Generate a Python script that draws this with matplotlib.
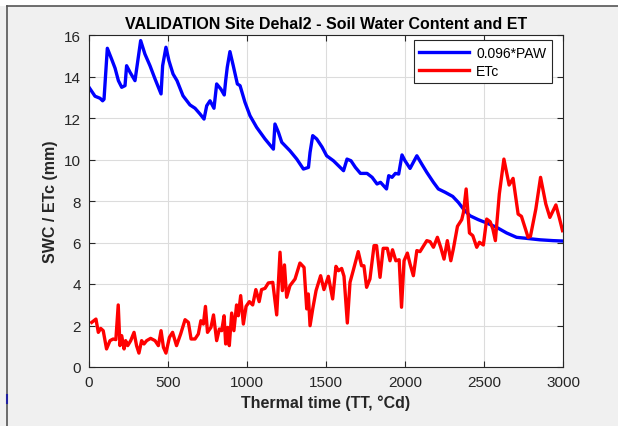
## SWC and ETc validation plot (Dehal2 site)
import numpy as np
import matplotlib.pyplot as plt
from matplotlib.lines import Line2D
from matplotlib.patches import Rectangle

plt.rcParams['font.family'] = ['Liberation Sans', 'DejaVu Sans']

# Soil water content (0.096*PAW), mm
swc_tt = [0, 38, 70, 86, 95, 116, 143, 165, 186, 207, 228, 238, 260, 291, 327, 354,
          386, 418, 456, 466, 487, 506, 532, 557, 595, 639, 671, 703, 728, 745, 766,
          791, 808, 834, 856, 865, 875, 892, 913, 939, 956, 987, 1019, 1061, 1114,
          1167, 1177, 1199, 1220, 1272, 1315, 1357, 1389, 1399, 1416, 1441, 1475,
          1504, 1547, 1579, 1611, 1633, 1658, 1686, 1718, 1760, 1792, 1823, 1845,
          1883, 1897, 1918, 1939, 1960, 1981, 2000, 2032, 2075, 2106, 2138, 2180,
          2211, 2254, 2302, 2338, 2370, 2411, 2464, 2517, 2580, 2643, 2706, 2769,
          2854, 2937, 3000]
swc = [13.48, 13.05, 12.95, 12.83, 12.9, 15.36, 14.84, 14.4, 13.8, 13.48, 13.56,
       14.52, 14.2, 13.8, 15.73, 15.08, 14.52, 13.88, 13.16, 14.52, 15.41, 14.76,
       14.12, 13.8, 13.07, 12.63, 12.47, 12.19, 11.95, 12.59, 12.83, 12.47, 13.64,
       13.4, 13.11, 13.8, 14.44, 15.2, 14.52, 13.64, 13.56, 12.76, 12.11, 11.55,
       10.99, 10.5, 11.71, 11.31, 10.83, 10.42, 10.02, 9.54, 9.62, 10.34, 11.15,
       10.99, 10.6, 10.18, 9.94, 9.7, 9.46, 10.02, 9.94, 9.62, 9.33, 9.33, 9.14,
       8.82, 8.9, 8.58, 9.22, 9.14, 9.33, 9.3, 10.22, 9.94, 9.57, 10.18, 9.78, 9.38,
       8.9, 8.58, 8.42, 8.22, 7.93, 7.61, 7.29, 7.1, 6.94, 6.73, 6.46, 6.25, 6.2,
       6.13, 6.09, 6.07]

# Crop evapotranspiration, mm
et_tt = [17, 44, 59, 74, 90, 111, 133, 153, 170, 185, 196, 207, 222, 232, 245, 264,
         285, 301, 316, 333, 348, 365, 390, 418, 439, 456, 471, 487, 509, 529, 554,
         580, 608, 629, 646, 671, 692, 708, 724, 737, 750, 772, 788, 808, 825, 840,
         855, 865, 878, 888, 903, 917, 934, 945, 960, 977, 994, 1015, 1036, 1056,
         1077, 1092, 1114, 1135, 1163, 1188, 1209, 1224, 1237, 1251, 1272, 1304,
         1335, 1361, 1378, 1388, 1399, 1416, 1437, 1466, 1487, 1515, 1542, 1563,
         1579, 1599, 1614, 1635, 1652, 1672, 1704, 1725, 1740, 1757, 1778, 1804,
         1820, 1842, 1862, 1888, 1905, 1921, 1942, 1963, 1978, 1994, 2015, 2032,
         2053, 2075, 2095, 2116, 2138, 2159, 2180, 2205, 2226, 2247, 2268, 2290,
         2306, 2332, 2359, 2370, 2387, 2408, 2429, 2454, 2471, 2496, 2517, 2539,
         2556, 2572, 2597, 2626, 2659, 2684, 2716, 2737, 2779, 2794, 2828, 2858,
         2891, 2917, 2955, 2976, 2997]
etc = [2.15, 2.31, 1.67, 1.86, 1.75, 0.87, 1.27, 1.35, 1.32, 2.99, 1.03, 1.51, 0.87,
       1.27, 1.03, 1.27, 1.67, 1.03, 0.67, 1.27, 1.11, 1.27, 1.38, 1.27, 1.03, 1.75,
       0.95, 0.67, 1.43, 1.67, 1.03, 1.59, 2.28, 2.15, 1.35, 1.35, 1.59, 2.23, 2.07,
       2.92, 1.67, 1.91, 2.51, 1.27, 1.83, 1.75, 2.47, 1.11, 1.91, 1.03, 2.6, 1.75,
       2.99, 2.47, 3.44, 2.07, 2.92, 3.15, 2.99, 3.73, 3.15, 3.73, 3.79, 4.05, 4.08,
       2.51, 5.53, 3.68, 4.92, 3.36, 3.92, 4.24, 5.01, 4.8, 2.8, 3.52, 1.99, 2.8,
       3.68, 4.4, 3.73, 4.37, 3.28, 4.85, 4.64, 4.75, 4.37, 2.12, 4.08, 4.64, 5.56,
       4.88, 4.88, 3.84, 4.24, 5.85, 5.85, 4.32, 5.72, 5.72, 5.12, 5.65, 5.12, 5.17,
       2.88, 5.12, 5.49, 4.96, 4.4, 5.61, 5.56, 5.82, 6.09, 6.04, 5.77, 6.25, 5.77,
       5.2, 6.09, 5.12, 5.69, 6.78, 7.1, 7.45, 8.58, 6.46, 6.33, 5.77, 6.01, 5.88,
       7.13, 7.0, 6.65, 6.09, 8.34, 10.02, 8.77, 9.09, 7.37, 7.26, 6.25, 6.3, 7.61,
       9.14, 7.86, 7.21, 7.81, 7.21, 6.57]

fig = plt.figure(figsize=(6.18, 4.27), dpi=100, facecolor='#f0f0f0')
# window frame of the screenshot
fig.patches.append(Rectangle((0, 1 - 7/427), 1, 7/427, transform=fig.transFigure,
                             facecolor='white', edgecolor='none', zorder=0))
fig.lines.append(Line2D([7/618, 1], [1 - 7/427, 1 - 7/427], transform=fig.transFigure,
                        color='#555555', lw=1.2))
fig.lines.append(Line2D([7/618, 7/618], [0, 1 - 7/427], transform=fig.transFigure,
                        color='#555555', lw=1.2))
fig.lines.append(Line2D([7/618, 7/618], [23/427, 31/427], transform=fig.transFigure,
                        color='#2020a0', lw=1.5))

ax = fig.add_axes([89/618, 59/427, 474/618, 332/427])
ax.plot(swc_tt, swc, color='#0000ff', lw=2.4, solid_joinstyle='round', label='0.096*PAW')
ax.plot(et_tt, etc, color='#ff0000', lw=2.4, solid_joinstyle='round', label='ETc')

ax.set_xlim(0, 3000)
ax.set_ylim(0, 16)
ax.set_xticks(np.arange(0, 3001, 500))
ax.set_yticks(np.arange(0, 17, 2))
ax.grid(True, color='#dcdcdc', lw=0.8)
ax.set_axisbelow(True)
ax.tick_params(direction='in', length=4, width=0.8, top=True, right=True,
               labelsize=11, colors='#262626', pad=6)
for s in ax.spines.values():
    s.set_color('#262626')
    s.set_linewidth(0.8)

ax.set_title('VALIDATION Site Dehal2 - Soil Water Content and ET', fontsize=11.5,
             fontweight='bold', color='black', pad=5)
ax.set_xlabel('Thermal time (TT, °Cd)', fontsize=11.5, fontweight='bold', color='#262626')
ax.set_ylabel('SWC / ETc (mm)', fontsize=11.5, fontweight='bold', color='#262626')

leg = ax.legend(loc='upper right', bbox_to_anchor=(1 - 11/474, 1 - 5/332),
                fontsize=10, handlelength=3.6, handletextpad=0.5,
                fancybox=False, framealpha=1, edgecolor='#262626',
                borderaxespad=0, borderpad=0.4, labelspacing=0.3)
leg.get_frame().set_linewidth(0.8)

plt.savefig('out.png', dpi=100, facecolor=fig.get_facecolor())
